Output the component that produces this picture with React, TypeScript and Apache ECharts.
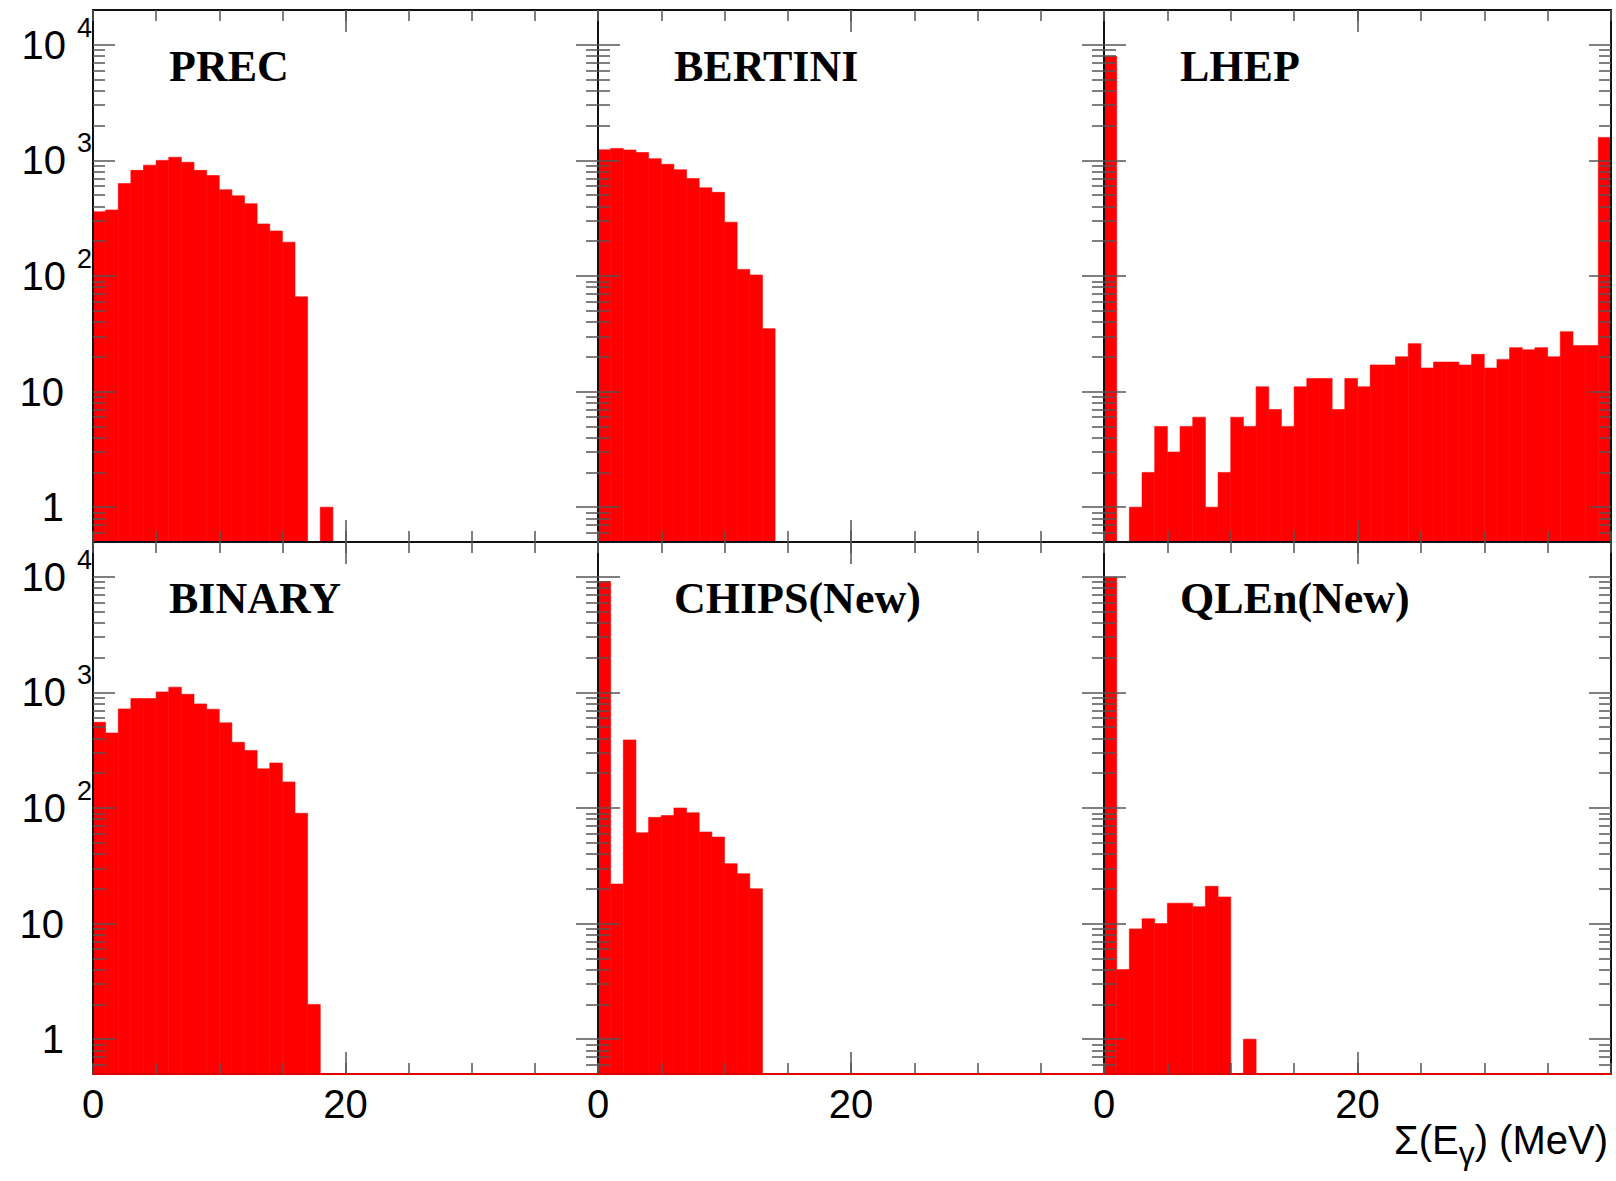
import React, { useEffect, useRef } from 'react';
import * as echarts from 'echarts';

// ---- data (counts per 1 MeV bin, 0..40 MeV) ----
const PANEL_NAMES = ['PREC', 'BERTINI', 'LHEP', 'BINARY', 'CHIPS(New)', 'QLEn(New)'];

const PREC = [360, 372, 630, 820, 910, 1000, 1065, 963, 820, 740, 557, 494, 422, 282, 245, 196, 66, 0, 1, 0,
  0, 0, 0, 0, 0, 0, 0, 0, 0, 0, 0, 0, 0, 0, 0, 0, 0, 0, 0, 0];
const BERTINI = [1235, 1270, 1230, 1170, 1035, 925, 830, 698, 579, 529, 292, 114, 102, 35, 0, 0, 0, 0, 0, 0,
  0, 0, 0, 0, 0, 0, 0, 0, 0, 0, 0, 0, 0, 0, 0, 0, 0, 0, 0, 0];
const LHEP = [7960, 0, 1, 2, 5, 3, 5, 6, 1, 2, 6, 5, 11, 7, 5, 11, 13, 13, 7, 13,
  11, 17, 17, 20, 26, 16, 18, 18, 17, 21, 16, 19, 24, 23, 24, 20, 33, 25, 25, 1580];
const BINARY = [552, 445, 720, 885, 885, 1010, 1110, 963, 795, 715, 545, 370, 315, 218, 245, 168, 90, 2, 0, 0,
  0, 0, 0, 0, 0, 0, 0, 0, 0, 0, 0, 0, 0, 0, 0, 0, 0, 0, 0, 0];
const CHIPS = [9100, 22, 388, 61, 83, 86, 100, 91, 62, 56, 33, 27, 20, 0, 0, 0, 0, 0, 0, 0,
  0, 0, 0, 0, 0, 0, 0, 0, 0, 0, 0, 0, 0, 0, 0, 0, 0, 0, 0, 0];
const QLEN = [9900, 4, 9, 11, 10, 15, 15, 14, 21, 17, 0, 1, 0, 0, 0, 0, 0, 0, 0, 0,
  0, 0, 0, 0, 0, 0, 0, 0, 0, 0, 0, 0, 0, 0, 0, 0, 0, 0, 0, 0];
const PANEL_DATA = [PREC, BERTINI, LHEP, BINARY, CHIPS, QLEN];

const X_MIN = 0;
const X_MAX = 40;
const BIN_WIDTH = 1;
const X_TICK_STEP = 5;
const X_LABELS = [0, 20];
const X_MAJOR = [20];
const Y_MIN = 0.5;
const Y_MAX = 20000;
const Y_DECADES = [0, 1, 2, 3, 4]; // log10 of 1, 10, 100, 1000, 10000

// ---- layout / style ----
const LOG_MIN = Math.log10(Y_MIN);
const LOG_MAX = Math.log10(Y_MAX);
const Y_MINOR: number[] = [];
for (let n = -1; n <= 4; n++) {
  for (let k = 2; k <= 9; k++) {
    const v = n + Math.log10(k);
    if (v > LOG_MIN + 1e-6 && v < LOG_MAX - 1e-6) Y_MINOR.push(v);
  }
}

const COL_LEFT = [93, 598, 1104];
const COL_WIDTH = [505, 506, 507];
const ROW_TOP = [10, 542];
const ROW_HEIGHT = 532;
const FRAME = { color: '#111', width: 2 };
const TICK = { color: '#555', width: 1.5 };
const BAR_COLOR = '#ff0000';
const SANS = 'Liberation Sans';

function makeXAxes(p: number, row: number) {
  const base = {
    type: 'value', gridIndex: p, min: X_MIN, max: X_MAX, interval: X_TICK_STEP, z: 10,
    splitLine: { show: false }, axisPointer: { show: false },
  };
  return [
    {
      ...base, position: 'bottom',
      axisLine: { show: true, onZero: false, lineStyle: row === 1 ? { color: '#e00000', width: 2 } : FRAME },
      axisTick: { show: true, inside: true, length: 11, lineStyle: TICK },
      axisLabel: row === 1
        ? { show: true, customValues: X_LABELS, margin: 10, fontSize: 40, lineHeight: 40, fontFamily: SANS, color: '#000' }
        : { show: false },
    },
    {
      ...base, position: 'bottom',
      axisLine: { show: false, onZero: false },
      axisTick: { show: true, inside: true, length: 22, customValues: X_MAJOR, lineStyle: TICK },
      axisLabel: { show: false },
    },
    {
      ...base, position: 'top',
      axisLine: { show: true, onZero: false, lineStyle: FRAME },
      axisTick: { show: true, inside: true, length: 11, lineStyle: TICK },
      axisLabel: { show: false },
    },
    {
      ...base, position: 'top',
      axisLine: { show: false, onZero: false },
      axisTick: { show: true, inside: true, length: 22, customValues: X_MAJOR, lineStyle: TICK },
      axisLabel: { show: false },
    },
  ];
}

function yLabelFormatter(v: number) {
  const e = Math.round(v);
  if (e === 0) return '{bp|1}';
  if (e === 1) return '{bp|10}';
  return '{b|10}{e|' + e + '}';
}

function makeYAxes(p: number, col: number) {
  const base = {
    type: 'value', gridIndex: p, min: LOG_MIN, max: LOG_MAX, z: 10,
    splitLine: { show: false }, axisPointer: { show: false },
  };
  return [
    {
      ...base, position: 'left',
      axisLine: { show: true, onZero: false, lineStyle: FRAME },
      axisTick: { show: true, inside: true, length: 22, customValues: Y_DECADES, lineStyle: TICK },
      axisLabel: col === 0
        ? {
          show: true, customValues: Y_DECADES, margin: 1, formatter: yLabelFormatter,
          rich: {
            b: { fontFamily: SANS, fontSize: 40, lineHeight: 40, color: '#000' },
            bp: { fontFamily: SANS, fontSize: 40, lineHeight: 40, color: '#000', padding: [0, 28, 0, 0] },
            e: { fontFamily: SANS, fontSize: 27, lineHeight: 27, color: '#000', padding: [0, 0, 34, 11] },
          },
        }
        : { show: false },
    },
    {
      ...base, position: 'left',
      axisLine: { show: false, onZero: false },
      axisTick: { show: true, inside: true, length: 12, customValues: Y_MINOR, lineStyle: TICK },
      axisLabel: { show: false },
    },
    {
      ...base, position: 'right',
      axisLine: { show: true, onZero: false, lineStyle: FRAME },
      axisTick: { show: true, inside: true, length: 22, customValues: Y_DECADES, lineStyle: TICK },
      axisLabel: { show: false },
    },
    {
      ...base, position: 'right',
      axisLine: { show: false, onZero: false },
      axisTick: { show: true, inside: true, length: 12, customValues: Y_MINOR, lineStyle: TICK },
      axisLabel: { show: false },
    },
  ];
}

function renderBin(_params: any, api: any) {
  const x0 = api.value(0);
  const x1 = api.value(1);
  const v = api.value(2);
  const top = api.coord([x0, v]);
  const bot = api.coord([x1, LOG_MIN]);
  return {
    type: 'rect',
    shape: { x: top[0], y: top[1], width: bot[0] - top[0], height: bot[1] - top[1] },
    style: { fill: BAR_COLOR, stroke: BAR_COLOR, lineWidth: 0.6 },
  };
}

function buildOption() {
  const grid: any[] = [];
  const xAxis: any[] = [];
  const yAxis: any[] = [];
  const series: any[] = [];
  const title: any[] = [];
  for (let p = 0; p < 6; p++) {
    const row = Math.floor(p / 3);
    const col = p % 3;
    grid.push({
      left: COL_LEFT[col], top: ROW_TOP[row], width: COL_WIDTH[col], height: ROW_HEIGHT,
      containLabel: false, outerBoundsMode: 'none',
    });
    xAxis.push(...makeXAxes(p, row));
    yAxis.push(...makeYAxes(p, col));
    const data = PANEL_DATA[p]
      .map((v, i) => (v > 0 ? [X_MIN + i * BIN_WIDTH, X_MIN + (i + 1) * BIN_WIDTH, Math.log10(v)] : null))
      .filter((d) => d !== null);
    series.push({
      type: 'custom', coordinateSystem: 'cartesian2d', xAxisIndex: 4 * p, yAxisIndex: 4 * p,
      clip: true, silent: true, z: 2, renderItem: renderBin, encode: { x: [0, 1], y: 2 }, data,
    });
    title.push({
      text: PANEL_NAMES[p], left: COL_LEFT[col] + 76, top: ROW_TOP[row] + 34, padding: 0,
      textStyle: { fontFamily: 'Liberation Serif', fontWeight: 'bold', fontSize: 44, lineHeight: 44, color: '#000' },
    });
  }
  title.push({
    text: '{a|Σ(E}{s|γ}{a|) (MeV)}', right: 8, top: 1120, padding: 0,
    textStyle: {
      fontWeight: 'normal', fontFamily: SANS, fontSize: 40,
      rich: {
        a: { fontFamily: SANS, fontWeight: 'normal', fontSize: 40, lineHeight: 40, color: '#000' },
        s: { fontFamily: SANS, fontWeight: 'normal', fontSize: 32, lineHeight: 32, color: '#000', padding: [26, 0, 0, 0] },
      },
    },
  });
  return { animation: false, backgroundColor: '#fff', grid, xAxis, yAxis, series, title };
}

export default function App() {
  const ref = useRef<HTMLDivElement>(null);
  useEffect(() => {
    if (!ref.current) return;
    const chart = echarts.init(ref.current, undefined, { renderer: 'svg' });
    chart.setOption(buildOption() as any);
    return () => chart.dispose();
  }, []);
  return <div ref={ref} style={{ position: 'absolute', left: 0, top: 0, width: 1616, height: 1181 }} />;
}
